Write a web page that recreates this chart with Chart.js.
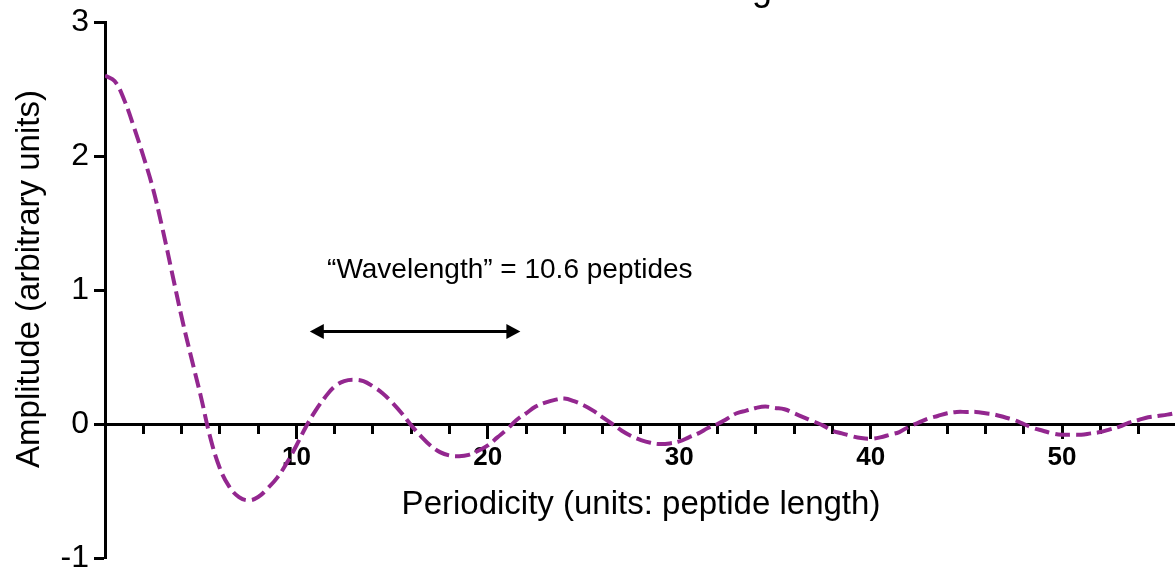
<!DOCTYPE html>
<html>
<head>
<meta charset="utf-8">
<script src="https://cdn.jsdelivr.net/npm/chart.js@4/dist/chart.umd.min.js"></script>
<style>
    html, body { margin: 0; padding: 0; background: #ffffff; }
    #wrap { width: 1175px; height: 572px; position: relative; }
</style>
</head>
<body>
<div id="wrap"><canvas id="periodChart"></canvas></div>
<script>
// values
var periodicity = [0, 0.5, 1, 1.5, 2, 2.5, 3, 3.5, 4, 4.5, 5, 5.5, 6, 6.5, 7, 7.5, 8, 8.5, 9, 9.5, 10,
    10.5, 11, 11.5, 12, 12.5, 13, 13.5, 14, 14.5, 15, 15.5, 16, 16.5, 17, 17.5, 18, 18.5, 19, 19.5, 20,
    20.5, 21, 21.5, 22, 22.5, 23, 23.5, 24, 24.5, 25, 25.5, 26, 26.5, 27, 27.5, 28, 28.5, 29, 29.5, 30,
    30.5, 31, 31.5, 32, 32.5, 33, 33.5, 34, 34.5, 35, 35.5, 36, 36.5, 37, 37.5, 38, 38.5, 39, 39.5, 40,
    40.5, 41, 41.5, 42, 42.5, 43, 43.5, 44, 44.5, 45, 45.5, 46, 46.5, 47, 47.5, 48, 48.5, 49, 49.5, 50,
    50.5, 51, 51.5, 52, 52.5, 53, 53.5, 54, 54.5, 55, 55.5, 55.9];
var amplitude = [2.60, 2.56, 2.42, 2.22, 2.00, 1.76, 1.46, 1.13, 0.80, 0.50, 0.21, -0.10, -0.33, -0.47, -0.545, -0.57, -0.545, -0.48, -0.40, -0.29, -0.16,
    -0.02, 0.10, 0.20, 0.28, 0.32, 0.33, 0.32, 0.28, 0.23, 0.16, 0.08, -0.01, -0.09, -0.16, -0.21, -0.235, -0.24, -0.23, -0.20, -0.16,
    -0.10, -0.04, 0.03, 0.08, 0.13, 0.16, 0.18, 0.19, 0.17, 0.14, 0.10, 0.05, 0.00, -0.05, -0.09, -0.12, -0.14, -0.15, -0.145, -0.13,
    -0.10, -0.07, -0.03, 0.00, 0.04, 0.08, 0.10, 0.12, 0.13, 0.12, 0.11, 0.08, 0.05, 0.02, -0.01, -0.05, -0.07, -0.09, -0.105, -0.11,
    -0.10, -0.08, -0.06, -0.02, 0.01, 0.04, 0.06, 0.08, 0.09, 0.09, 0.09, 0.08, 0.07, 0.05, 0.03, 0.00, -0.03, -0.05, -0.07, -0.08,
    -0.08, -0.08, -0.07, -0.06, -0.04, -0.02, 0.01, 0.03, 0.05, 0.06, 0.07, 0.08];
var xLabelValues = [10, 20, 30, 40, 50];
var yTickValues = [-1, 0, 1, 2, 3];

var annotationText = '\u201CWavelength\u201D = 10.6 peptides';
var arrowFrom = 10.7, arrowTo = 21.7, arrowLevel = 0.69;

var FONT = '"Liberation Sans", Arial, Helvetica, sans-serif';

var annotationPlugin = {
    id: 'annotations',
    afterDraw: function (chart) {
        var c = chart.ctx;
        var xs = chart.scales.x;
        var ys = chart.scales.y;
        c.save();
        c.fillStyle = '#000000';
        c.strokeStyle = '#000000';

        // wavelength label and double arrow
        c.font = '28px ' + FONT;
        c.textAlign = 'center';
        c.textBaseline = 'middle';
        c.fillText(annotationText, xs.getPixelForValue(21.15), ys.getPixelForValue(1.15));

        var x1 = xs.getPixelForValue(arrowFrom);
        var x2 = xs.getPixelForValue(arrowTo);
        var ay = ys.getPixelForValue(arrowLevel);
        var head = 14, half = 7.5;
        c.lineWidth = 3;
        c.beginPath();
        c.moveTo(x1 + head - 2, ay);
        c.lineTo(x2 - head + 2, ay);
        c.stroke();
        c.beginPath();
        c.moveTo(x1, ay);
        c.lineTo(x1 + head, ay - half);
        c.lineTo(x1 + head, ay + half);
        c.closePath();
        c.fill();
        c.beginPath();
        c.moveTo(x2, ay);
        c.lineTo(x2 - head, ay - half);
        c.lineTo(x2 - head, ay + half);
        c.closePath();
        c.fill();

        // axis titles
        c.font = '33px ' + FONT;
        c.textAlign = 'center';
        c.textBaseline = 'middle';
        c.fillText('Periodicity (units: peptide length)', (chart.chartArea.left + chart.chartArea.right) / 2 + 1, 505);

        c.translate(30, 279);
        c.rotate(-Math.PI / 2);
        c.fillText('Amplitude (arbitrary units)', 0, 0);
        c.restore();

        // cut-off title remnant at the top edge
        c.save();
        c.font = '36px ' + FONT;
        c.textAlign = 'center';
        c.textBaseline = 'alphabetic';
        c.fillStyle = '#000000';
        c.fillText('g', 762, 0);
        c.restore();
    }
};

document.addEventListener('DOMContentLoaded', function () {
    var canvas = document.getElementById('periodChart');
    var points = periodicity.map(function (x, i) {
        return { x: x, y: amplitude[i] };
    });

    new Chart(canvas, {
        type: 'line',
        data: {
            datasets: [{
                data: points,
                xAxisID: 'x',
                yAxisID: 'y',
                borderColor: '#93278f',
                borderWidth: 4,
                borderDash: [15, 6],
                pointRadius: 0,
                fill: false,
                tension: 0.4
            }]
        },
        plugins: [annotationPlugin],
        options: {
            responsive: true,
            maintainAspectRatio: false,
            animation: false,
            layout: { padding: { top: 22, right: 0, bottom: 14, left: 0 } },
            plugins: { legend: { display: false }, tooltip: { enabled: false }, title: { display: false } },
            scales: {
                x: {
                    type: 'linear',
                    position: { y: 0 },
                    min: 0,
                    max: 55.9,
                    afterFit: function (s) { s.height = 0; s.paddingLeft = 0; s.paddingRight = 0; },
                    ticks: { stepSize: 2, display: false, includeBounds: false },
                    grid: { drawOnChartArea: false, drawTicks: true, tickLength: 8, tickWidth: 3, tickColor: '#000000' },
                    border: { display: true, color: '#000000', width: 3 }
                },
                x2: {
                    type: 'linear',
                    axis: 'x',
                    position: { y: 0 },
                    min: 0,
                    max: 55.9,
                    afterFit: function (s) { s.height = 0; s.paddingLeft = 0; s.paddingRight = 0; },
                    ticks: {
                        stepSize: 10,
                        includeBounds: false,
                        autoSkip: false,
                        maxRotation: 0,
                        padding: 3,
                        color: '#000000',
                        font: { size: 26, weight: 'bold', family: FONT },
                        callback: function (v) { return xLabelValues.indexOf(v) >= 0 ? String(v) : ''; }
                    },
                    grid: { drawOnChartArea: false, drawTicks: true, tickLength: 15, tickWidth: 3, tickColor: '#000000' },
                    border: { display: false }
                },
                y: {
                    type: 'linear',
                    position: 'left',
                    min: -1,
                    max: 3,
                    afterFit: function (s) { s.width = 105; s.paddingTop = 0; s.paddingBottom = 0; },
                    ticks: {
                        stepSize: 1,
                        padding: 5,
                        color: '#000000',
                        font: { size: 32, family: FONT },
                        callback: function (v) { return yTickValues.indexOf(v) >= 0 ? String(v) : ''; }
                    },
                    grid: { drawOnChartArea: false, drawTicks: true, tickLength: 11, tickWidth: 3, tickColor: '#000000' },
                    border: { display: true, color: '#000000', width: 3 }
                }
            }
        }
    });
});
</script>
</body>
</html>
